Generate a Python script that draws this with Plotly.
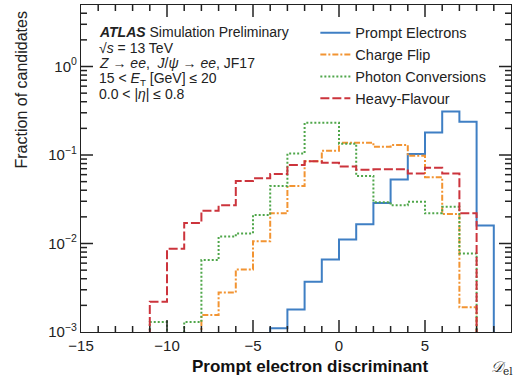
import math
import plotly.graph_objects as go

# ---------------- data ----------------
bin_edges = list(range(-15, 11))  # unit-width bins from -15 to 10

prompt_start = -4
prompt_vals = [0.0011, 0.0018, 0.0037, 0.0066, 0.0111, 0.0165, 0.0287, 0.053,
               0.1026, 0.18, 0.31, 0.238, 0.016]

flip_start = -8
flip_vals = [0.00156, 0.0028, 0.0051, 0.0106, 0.0219, 0.0447, 0.085, 0.112,
             0.138, 0.138, 0.124, 0.13, 0.098, 0.056, 0.0215, 0.0019]

conv_start = -11
conv_vals = [0.0013, 0.0, 0.0013, 0.0065, 0.012, 0.013, 0.021, 0.0447, 0.104,
             0.232, 0.232, 0.134, 0.058, 0.0293, 0.027, 0.0297, 0.0219, 0.026, 0.0077]

hf_start = -11
hf_vals = [0.0022, 0.0087, 0.017, 0.0235, 0.027, 0.051, 0.0546, 0.061, 0.077,
           0.085, 0.082, 0.074, 0.068, 0.069, 0.069, 0.062, 0.072, 0.062, 0.0219]

series_names = ["Prompt Electrons", "Charge Flip", "Photon Conversions", "Heavy-Flavour"]
series_colors = ["#3f7fc4", "#f29432", "#4fa64a", "#cc343c"]
series_dash = ["solid", "6px,2px,2px,2px", "2px,2px", "9px,3px"]

x_ticks = [-15, -10, -5, 0, 5, 10]
x_ticktext = ["\u221215", "\u221210", "\u22125", "0", "5", "10"]
y_ticks = [1e-3, 1e-2, 1e-1, 1]
y_ticktext = ["10<sup>\u22123</sup>", "10<sup>\u22122</sup>", "10<sup>\u22121</sup>", "10<sup>0</sup>"]

TINY = 1e-7


def step_xy(start, vals):
    lefts = [start + i for i in range(len(vals))]
    xs = [start] + lefts + [start + len(vals)]
    ys = [TINY] + [v if v > 0 else TINY for v in vals] + [TINY]
    return xs, ys


fig = go.Figure()
for name, start, vals, col, dash in zip(
        series_names,
        [prompt_start, flip_start, conv_start, hf_start],
        [prompt_vals, flip_vals, conv_vals, hf_vals],
        series_colors, series_dash):
    xs, ys = step_xy(start, vals)
    fig.add_trace(go.Scatter(x=xs, y=ys, mode="lines", name=name,
                             line=dict(shape="hv", color=col, width=2, dash=dash)))

font_family = "Liberation Sans, Arial, sans-serif"
X_RANGE = [-15, 10]
Y_RANGE = [-3, 0.695]
PLOT_W, PLOT_H = 430, 327
MAJ_LEN, MIN_LEN = 12, 6
TICK_COL = "#222"
TICK_W = 1.5

# minor tick positions
x_minor = [v for v in range(-15, 11) if v % 5 != 0]
y_minor = []
for d in [1e-3, 1e-2, 1e-1, 1]:
    for k in range(2, 10):
        if math.log10(d * k) < Y_RANGE[1]:
            y_minor.append(d * k)

# axis ticks (inside, on all four sides) drawn as shapes
tick_shapes = []
for vals, ln in [(x_ticks, MAJ_LEN), (x_minor, MIN_LEN)]:
    f = ln / PLOT_H
    for v in vals:
        if v in (X_RANGE[0], X_RANGE[1]):
            continue
        for y0, y1 in [(0, f), (1, 1 - f)]:
            tick_shapes.append(dict(type="line", xref="x", yref="y domain",
                                    x0=v, x1=v, y0=y0, y1=y1,
                                    line=dict(color=TICK_COL, width=TICK_W)))
for vals, ln in [(y_ticks, MAJ_LEN), (y_minor, MIN_LEN)]:
    f = ln / PLOT_W
    for v in vals:
        yd = (math.log10(v) - Y_RANGE[0]) / (Y_RANGE[1] - Y_RANGE[0])
        if yd <= 0 or yd >= 1:
            continue
        for x0, x1 in [(0, f), (1, 1 - f)]:
            tick_shapes.append(dict(type="line", xref="x domain", yref="y domain",
                                    x0=x0, x1=x1, y0=yd, y1=yd,
                                    line=dict(color=TICK_COL, width=TICK_W)))

fig.update_layout(
    width=517, height=376,
    margin=dict(l=81, r=6, t=5, b=44),
    paper_bgcolor="white", plot_bgcolor="white",
    font=dict(family=font_family, size=15, color="#222"),
    showlegend=True,
    legend=dict(x=0.545, y=0.964, xanchor="left", yanchor="top",
                font=dict(size=14.5, color="#222"), bgcolor="rgba(0,0,0,0)",
                tracegroupgap=0, itemwidth=30),
    xaxis=dict(range=X_RANGE, showgrid=False, zeroline=False,
               showline=True, linecolor=TICK_COL, linewidth=1.3, mirror=True,
               ticks="", tickmode="array", tickvals=x_ticks, ticktext=x_ticktext,
               tickfont=dict(size=15)),
    yaxis=dict(type="log", range=Y_RANGE, showgrid=False, zeroline=False,
               showline=True, linecolor=TICK_COL, linewidth=1.3, mirror=True,
               ticks="", tickmode="array", tickvals=y_ticks, ticktext=y_ticktext,
               tickfont=dict(size=15)),
    shapes=tick_shapes,
)

ann = [
    dict(text="<b><i>ATLAS</i></b> Simulation Preliminary", y=32),
    dict(text="\u221a<i>s</i> = 13 TeV", y=48),
    dict(text="<i>Z</i> \u2192 <i>ee</i>,  <i>J</i>/<i>\u03c8</i> \u2192 <i>ee</i>, JF17", y=63),
    dict(text="15 &lt; <i>E</i><sub>T</sub> [GeV] \u2264 20", y=79),
    dict(text="0.0 &lt; |<i>\u03b7</i>| \u2264 0.8", y=94),
]
for a in ann:
    fig.add_annotation(text=a["text"], xref="paper", yref="paper",
                       x=(97 - 81) / 430, y=1 - (a["y"] - 5) / 327,
                       xanchor="left", yanchor="middle", showarrow=False,
                       font=dict(size=14, color="#222"))

fig.add_annotation(text="Fraction of candidates", xref="paper", yref="paper",
                   x=-(81 - 21) / 430, y=1 - (10 - 5) / 327, textangle=-90,
                   xanchor="center", yanchor="top", showarrow=False,
                   font=dict(size=16, color="#222"))
fig.add_annotation(text="<b>Prompt electron discriminant</b>", xref="paper", yref="paper",
                   x=(310 - 81) / 430, y=-(366 - 332) / 327,
                   xanchor="center", yanchor="middle", showarrow=False,
                   font=dict(size=17, color="#111"))
fig.add_annotation(text="<i>\U0001D49F</i><sub>el</sub>", xref="paper", yref="paper",
                   x=(502 - 81) / 430, y=-(367 - 332) / 327,
                   xanchor="center", yanchor="middle", showarrow=False,
                   font=dict(size=15, color="#222", family="DejaVu Serif, serif"))

fig.write_html("out.html")
